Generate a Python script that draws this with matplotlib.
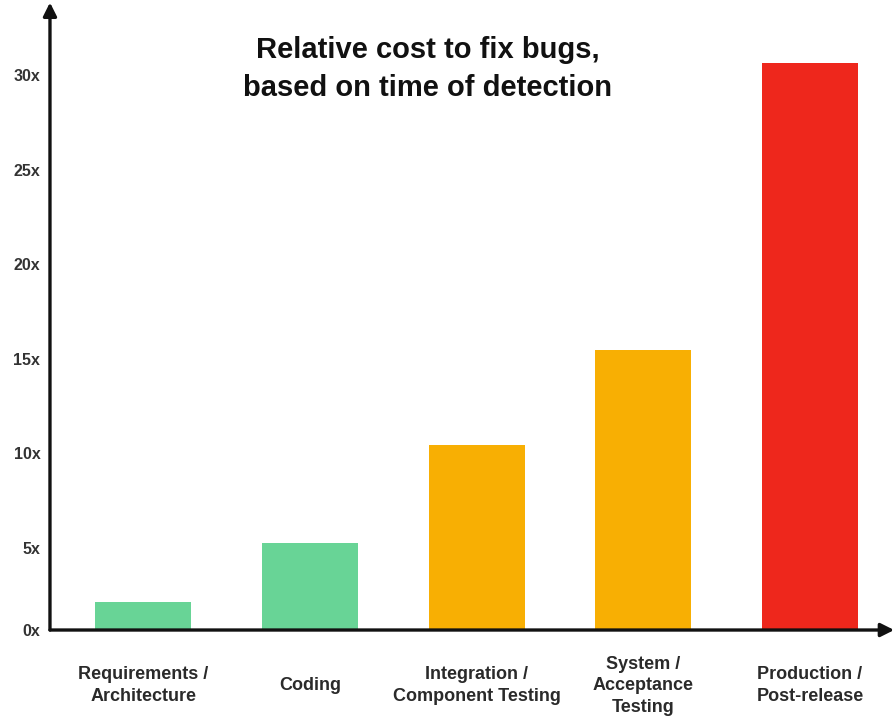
import matplotlib
matplotlib.use("Agg")
import matplotlib.pyplot as plt
from matplotlib.transforms import ScaledTranslation

# stage at which the bug is found, and relative fix cost
STAGES = ["Requirements /\nArchitecture", "Coding",
          "Integration /\nComponent Testing",
          "System /\nAcceptance\nTesting", "Production /\nPost-release"]
COST = [1.5, 4.6, 9.8, 14.8, 30.0]
BAR_COLORS = ["#68D496", "#68D496", "#F8AF03", "#F8AF03", "#EE271C"]
Y_TICKS = [0, 5, 10, 15, 20, 25, 30]
Y_LABELS = ["0x", "5x", "10x", "15x", "20x", "25x", "30x"]

FONT = ["Liberation Sans Narrow", "Liberation Sans", "DejaVu Sans"]
plt.rcParams["font.family"] = FONT

fig = plt.figure(figsize=(8.94, 7.27), dpi=100)
ax = fig.add_axes([0.0559, 0.1334, 0.9396, 0.8597])

x = range(len(STAGES))
ax.bar(x, COST, width=0.577, color=BAR_COLORS, zorder=2)

ax.set_xlim(-0.56, 4.48)
ax.set_ylim(0, 33.07)

# arrowed axes drawn by hand, no box
for side in ["top", "right", "left", "bottom"]:
    ax.spines[side].set_visible(False)
arrow = dict(arrowstyle="-|>", lw=2.4, color="#111111",
             mutation_scale=20, shrinkA=0, shrinkB=0)
ax.annotate("", xy=(0, 1.004), xytext=(0, 0), xycoords="axes fraction",
            arrowprops=arrow, zorder=4, annotation_clip=False)
ax.annotate("", xy=(1.005, 0), xytext=(0, 0), xycoords="axes fraction",
            arrowprops=arrow, zorder=4, annotation_clip=False)

ax.set_yticks(Y_TICKS)
ax.set_yticklabels(Y_LABELS, fontsize=11.5, color="#333333",
                   fontweight="bold")
ax.tick_params(axis="y", length=0, pad=7)
for lab, v in zip(ax.get_yticklabels(), Y_TICKS):
    if v:
        lab.set_transform(lab.get_transform() +
                          ScaledTranslation(0, -12 / 100, fig.dpi_scale_trans))

ax.set_xticks(list(x))
ax.set_xticklabels(STAGES, fontsize=13, color="#2a2a2a",
                   fontweight="bold", linespacing=1.35)
ax.tick_params(axis="x", length=0, pad=40)
for lab in ax.get_xticklabels():
    lab.set_verticalalignment("center")

fig.text(0.478, 0.905, "Relative cost to fix bugs,\nbased on time of detection",
         ha="center", va="center", fontsize=21, fontweight="bold",
         color="#111111", linespacing=1.45)

fig.savefig("out.png", dpi=100)
